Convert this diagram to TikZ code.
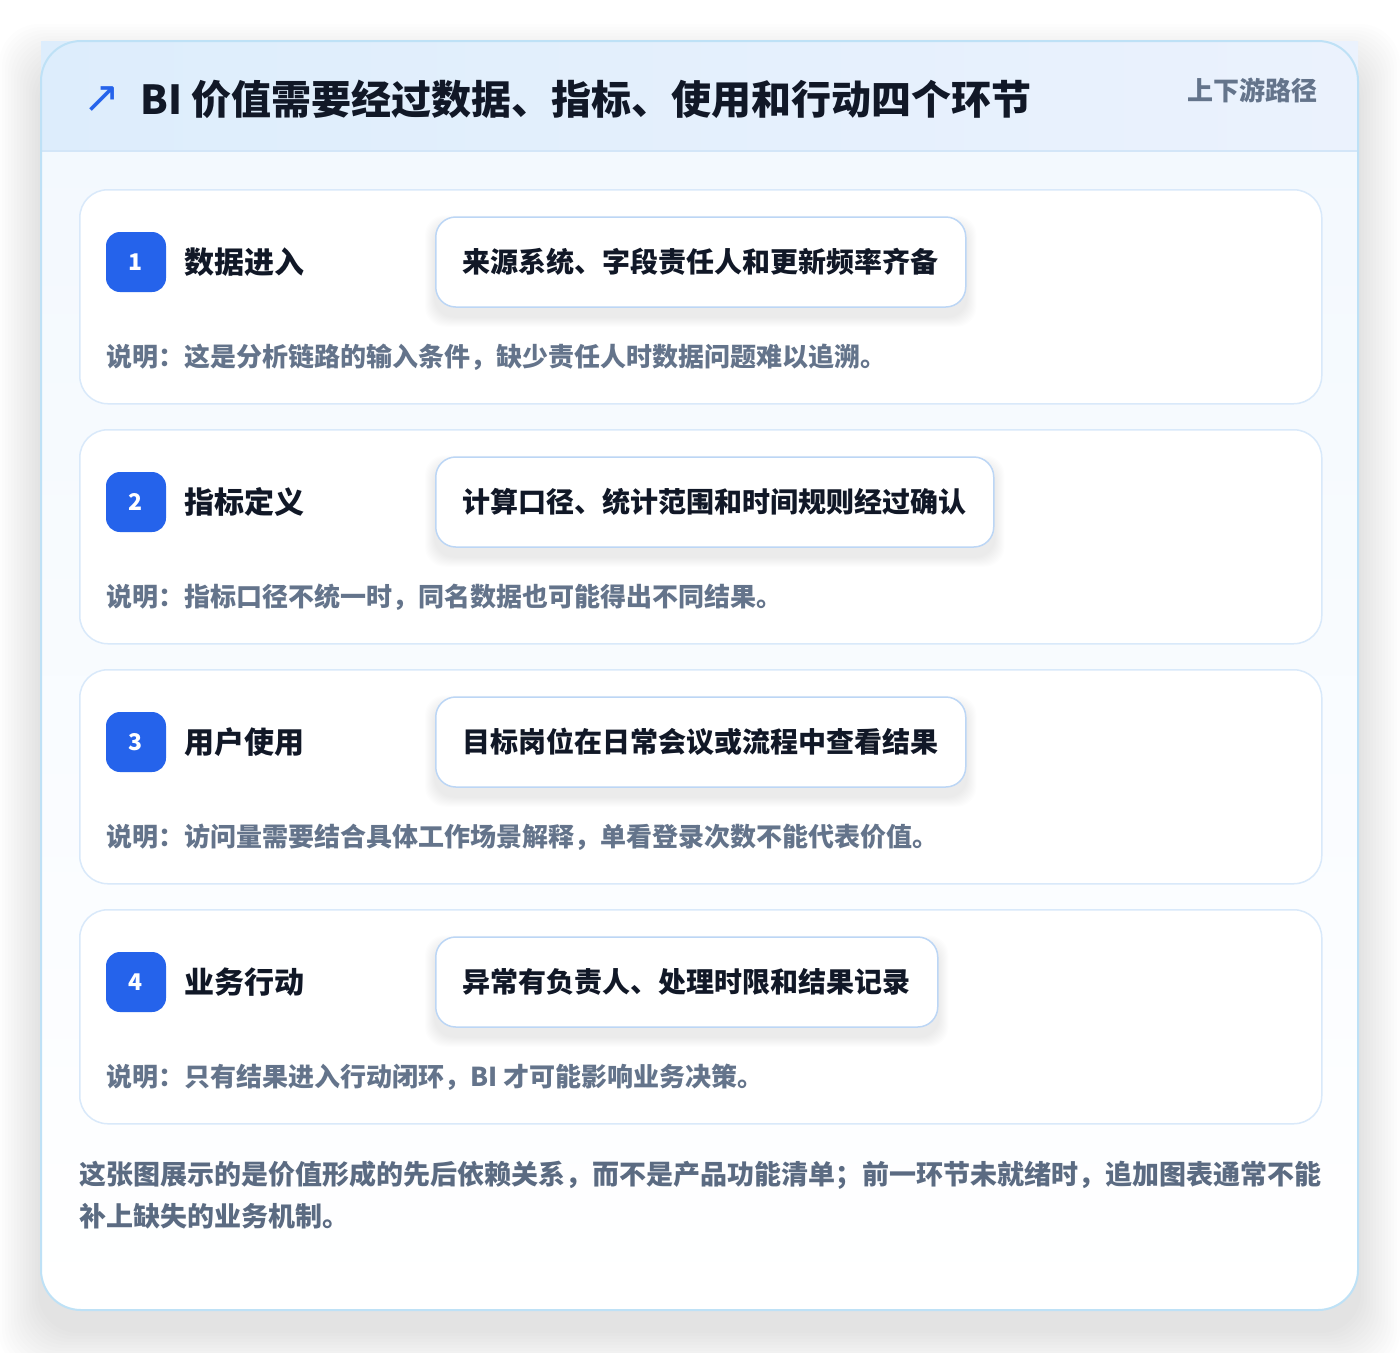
\documentclass[tikz,border=0pt]{standalone}
\usepackage{fontspec}
\setmainfont{Noto Sans CJK SC}
\newfontfamily\symfont{DejaVu Sans}
\usetikzlibrary{positioning}

\definecolor{pagebg}{HTML}{FFFFFF}
\definecolor{outerline}{HTML}{BEE1F6}
\definecolor{headleft}{HTML}{DDEDFC}
\definecolor{headright}{HTML}{EBF2FD}
\definecolor{headline}{HTML}{D3E6F8}
\definecolor{bodytop}{HTML}{F2F8FE}
\definecolor{stepline}{HTML}{D9E9FA}
\definecolor{pillline}{HTML}{BCD6F5}
\definecolor{badgeblue}{HTML}{2563EB}
\definecolor{inkdark}{HTML}{111827}
\definecolor{inkgray}{HTML}{64748B}
\definecolor{footgray}{HTML}{5B6B82}

\pgfdeclarelayer{back}
\pgfdeclarelayer{shade}
\pgfsetlayers{back,shade,main}

% soft shadow under a pill node
\newcommand\pillshadow[1]{%
    \foreach \r in {1,...,10}
        \fill[black, opacity=0.006, rounded corners=20pt]
            ([xshift=-\r pt, yshift={(\r-9)*1pt}]#1.north west) rectangle
            ([xshift=\r pt, yshift={(-9-\r)*1pt}]#1.south east);}

\begin{document}
\begin{tikzpicture}[x=1pt, y=-1pt,
    stepcard/.style={draw=stepline, line width=1.5pt, rounded corners=28pt, fill=white,
        minimum width=1242pt, minimum height=214pt, anchor=north west, inner sep=0pt},
    badge/.style={fill=badgeblue, rounded corners=14pt, minimum size=60pt, inner sep=0pt,
        text=white, font=\bfseries\fontsize{23}{23}\selectfont},
    steptitle/.style={anchor=west, inner sep=0pt, text=inkdark,
        font=\bfseries\fontsize{30}{30}\selectfont},
    pill/.style={draw=pillline, line width=1.5pt, rounded corners=20pt, fill=white,
        anchor=west, minimum height=90pt, inner xsep=27pt, text=inkdark,
        font=\bfseries\fontsize{28}{28}\selectfont},
    stepnote/.style={anchor=west, inner sep=0pt, text=inkgray,
        font=\bfseries\fontsize{26}{26}\selectfont}]
    \useasboundingbox (0,0) rectangle (1400,1352);

    \begin{pgfonlayer}{back}
    \fill[pagebg] (0,0) rectangle (1400,1352);
    % outer card with its shadow
    \foreach \r in {3,6,...,42}
        \fill[black, opacity=0.006, rounded corners=40pt]
            (41-\r, 66-\r) rectangle (1358+\r, 1330+\r);
    \shade[top color=bodytop, bottom color=white, rounded corners=40pt] (41,41) rectangle (1358,1310);
    \shade[left color=headleft, right color=headright] (41,41) rectangle (1358,151);
    \draw[headline, line width=1.5pt] (41,151) -- (1358,151);
    \draw[outerline, line width=2pt, rounded corners=40pt] (41,41) rectangle (1358,1310);

    \node[stepcard] (card1) at (79,189) {};
    \node[stepcard] (card2) at (79,429) {};
    \node[stepcard] (card3) at (79,669) {};
    \node[stepcard] (card4) at (79,909) {};
    \end{pgfonlayer}

    % header
    \node[anchor=west, inner sep=0pt, text=badgeblue, font=\symfont\fontsize{44}{44}\selectfont] (arrow) at (83,100) {↗};
    \node[anchor=west, inner sep=0pt, text=inkdark, font=\bfseries\fontsize{40}{40}\selectfont] (title) at (140,99)
        {BI 价值需要经过数据、指标、使用和行动四个环节};
    \node[anchor=east, inner sep=0pt, text=inkgray, font=\bfseries\fontsize{26}{26}\selectfont] (path) at (1318,90) {上下游路径};

    % step 1
    \node[badge] (badge1) at (136,262) {1};
    \node[steptitle, right=18pt of badge1] (name1) {数据进入};
    \node[pill] (pill1) at (435,262) {来源系统、字段责任人和更新频率齐备};
    \node[stepnote] (note1) at (106,357) {说明：这是分析链路的输入条件，缺少责任人时数据问题难以追溯。};

    % step 2
    \node[badge] (badge2) at (136,502) {2};
    \node[steptitle, right=18pt of badge2] (name2) {指标定义};
    \node[pill] (pill2) at (435,502) {计算口径、统计范围和时间规则经过确认};
    \node[stepnote] (note2) at (106,597) {说明：指标口径不统一时，同名数据也可能得出不同结果。};

    % step 3
    \node[badge] (badge3) at (136,742) {3};
    \node[steptitle, right=18pt of badge3] (name3) {用户使用};
    \node[pill] (pill3) at (435,742) {目标岗位在日常会议或流程中查看结果};
    \node[stepnote] (note3) at (106,837) {说明：访问量需要结合具体工作场景解释，单看登录次数不能代表价值。};

    % step 4
    \node[badge] (badge4) at (136,982) {4};
    \node[steptitle, right=18pt of badge4] (name4) {业务行动};
    \node[pill] (pill4) at (435,982) {异常有负责人、处理时限和结果记录};
    \node[stepnote] (note4) at (106,1077) {说明：只有结果进入行动闭环，BI 才可能影响业务决策。};

    \begin{pgfonlayer}{shade}
    \pillshadow{pill1}
    \pillshadow{pill2}
    \pillshadow{pill3}
    \pillshadow{pill4}
    \end{pgfonlayer}

    % footer
    \node[anchor=north west, inner sep=0pt, align=left, text=footgray,
        font=\bfseries\fontsize{27}{42}\selectfont] (footer) at (79,1161)
        {这张图展示的是价值形成的先后依赖关系，而不是产品功能清单；前一环节未就绪时，追加图表通常不能\\补上缺失的业务机制。};
\end{tikzpicture}
\end{document}
